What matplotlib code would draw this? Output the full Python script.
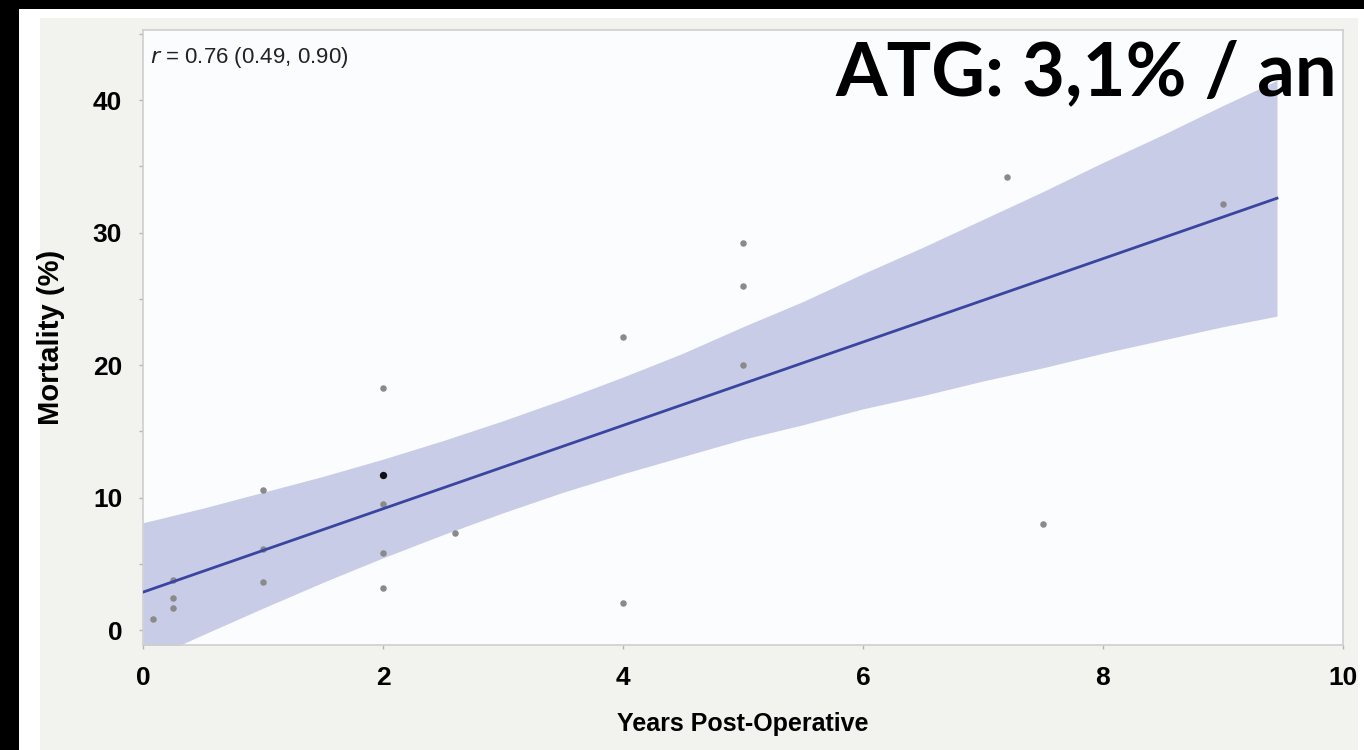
import matplotlib
matplotlib.use("Agg")
import matplotlib.pyplot as plt
from matplotlib.patches import Rectangle
from matplotlib.ticker import MultipleLocator

# scatter points
years = [0.08, 0.25, 0.25, 0.25, 1.0, 1.0, 1.0, 2.0, 2.0, 2.0, 2.0, 2.6,
         4.0, 4.0, 5.0, 5.0, 5.0, 7.2, 7.5, 9.0]
mortality = [0.85, 2.45, 1.65, 3.8, 10.6, 3.65, 6.1, 18.3, 9.5, 5.8, 3.15, 7.3,
             22.1, 2.05, 29.2, 26.0, 20.0, 34.2, 8.0, 32.2]
# the highlighted (black) point
hi_year = [2.0]
hi_mort = [11.7]

# regression line and its confidence band
fit_x = [0, 9.45]
fit_y = [2.86, 32.6]
band_x = [0, 0.5, 1, 1.5, 2, 2.5, 3, 3.5, 4, 4.5, 5, 5.5, 6, 6.5, 7, 7.5,
          8, 8.5, 9, 9.45]
band_hi = [8.1, 9.2, 10.4, 11.6, 12.9, 14.3, 15.8, 17.4, 19.1, 20.9, 22.9,
           24.8, 26.9, 28.9, 31.0, 33.1, 35.3, 37.4, 39.6, 41.5]
band_lo = [-2.4, -0.35, 1.65, 3.6, 5.45, 7.2, 8.85, 10.4, 11.8, 13.1, 14.4,
           15.5, 16.7, 17.7, 18.8, 19.8, 20.9, 21.9, 22.9, 23.7]

W, H = 1364, 750
fig = plt.figure(figsize=(W / 100, H / 100), dpi=100, facecolor="#f2f2ee")

# frame around the screenshot
fig.add_artist(Rectangle((19 / W, 0), 21 / W, 1 - 9 / H, transform=fig.transFigure,
                         facecolor="white", edgecolor="none", zorder=-5))
fig.add_artist(Rectangle((19 / W, 1 - 18 / H), 1, 9 / H, transform=fig.transFigure,
                         facecolor="white", edgecolor="none", zorder=-5))
fig.add_artist(Rectangle((1358 / W, 0), 6 / W, 1, transform=fig.transFigure,
                         facecolor="white", edgecolor="none", zorder=-5))
fig.add_artist(Rectangle((0, 0), 19 / W, 1, transform=fig.transFigure,
                         facecolor="black", edgecolor="none", zorder=-4))
fig.add_artist(Rectangle((0, 1 - 9 / H), 1, 9 / H, transform=fig.transFigure,
                         facecolor="black", edgecolor="none", zorder=-4))

ax = fig.add_axes([143 / W, 1 - 645 / H, 1200 / W, 615 / H])
ax.set_facecolor("#fbfcfe")

ax.fill_between(band_x, band_lo, band_hi, color="#c9cce6", linewidth=0, zorder=1)
ax.scatter(years, mortality, s=22, color="#8a8a8a", linewidths=0, zorder=2)
ax.plot(fit_x, fit_y, color="#3a45a0", linewidth=2.0, zorder=3)
ax.scatter(hi_year, hi_mort, s=28, color="#111111", linewidths=0, zorder=4)

ax.set_xlim(0, 10)
ax.set_ylim(-1.13, 45.3)
ax.xaxis.set_major_locator(MultipleLocator(2))
ax.yaxis.set_major_locator(MultipleLocator(10))
ax.yaxis.set_minor_locator(MultipleLocator(5))
ax.xaxis.set_minor_locator(MultipleLocator(1))

for s in ax.spines.values():
    s.set_color("#cfcfcf")
    s.set_linewidth(1.2)
ax.tick_params(which="both", direction="out", color="#b5b5b5", length=3, width=1)
ax.tick_params(axis="x", which="minor", length=0)
ax.tick_params(which="major", labelsize=19, pad=12)
for lab in ax.get_xticklabels() + ax.get_yticklabels():
    lab.set_fontweight("bold")
    lab.set_fontfamily("Liberation Sans")

ax.set_xlabel("Years Post-Operative", fontsize=18, fontweight="bold",
              family="Liberation Sans", labelpad=16)
ax.set_ylabel("Mortality (%)", fontsize=21, fontweight="bold",
              family="Liberation Sans", labelpad=20)

ax.text(0.006, 0.975, "$r$ = 0.76 (0.49, 0.90)", transform=ax.transAxes,
        fontsize=16, family="Liberation Sans", va="top", ha="left", color="#222222")

fig.text(835 / W, 1 - 95 / H, "ATG: 3,1% / an", fontsize=53.5, fontweight="bold",
         family="Lato", ha="left", va="baseline", color="black")

fig.savefig("out.png", dpi=100, facecolor=fig.get_facecolor())
